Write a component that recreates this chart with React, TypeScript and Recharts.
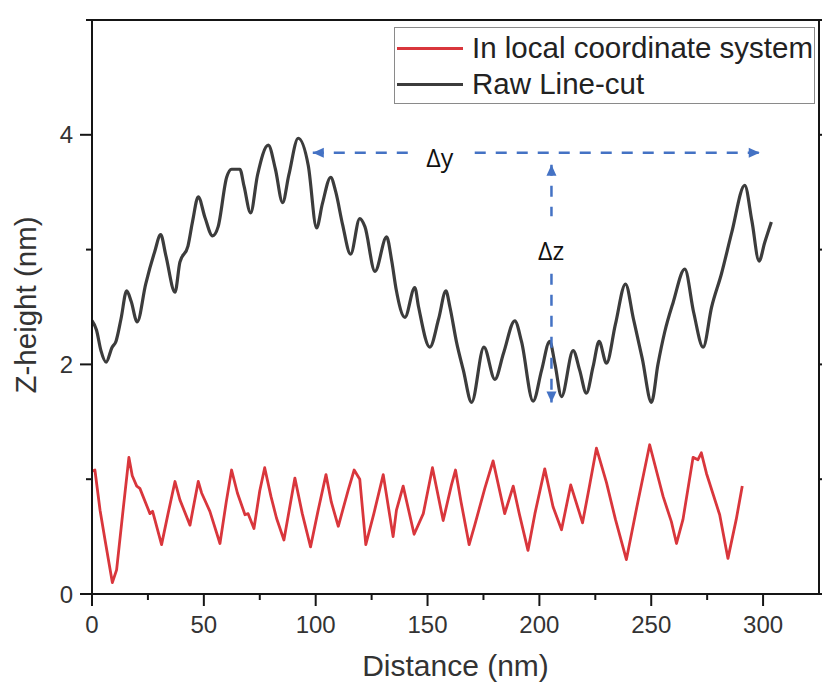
import React from 'react';
import { LineChart, Line, XAxis, YAxis, Legend, ReferenceLine, ReferenceDot } from 'recharts';

// ---- data ----
const rawDistance = [0, 2, 4, 6.3, 9, 10.7, 13, 15.5, 17.5, 20.2, 24, 28, 30.7, 33, 37.1, 39.3, 42.9, 45, 47.5, 50.5, 53.9, 56.4, 60.2, 62.4, 66.1, 68, 70.9, 74, 78.8, 82, 85.2, 88, 92.2, 96.7, 100.4, 103, 106.7, 109, 112, 115.6, 119.7, 122, 126.5, 131.7, 134, 136, 139.9, 144.3, 146, 151, 155, 158.2, 160, 163, 166, 169.7, 175.2, 180.1, 184, 189, 192, 197.2, 201, 204.6, 207, 209.9, 215.1, 218, 221, 224, 226.7, 230, 234, 238.5, 242, 246, 250.1, 253, 256, 259.8, 265, 269, 273.2, 277, 281.4, 286, 291.8, 295, 298.2, 300.7, 303.7];
const rawHeight = [2.38, 2.3, 2.12, 2.02, 2.15, 2.2, 2.4, 2.64, 2.55, 2.37, 2.7, 2.98, 3.13, 2.95, 2.63, 2.89, 3.03, 3.25, 3.46, 3.28, 3.12, 3.2, 3.63, 3.7, 3.7, 3.55, 3.32, 3.65, 3.91, 3.7, 3.41, 3.65, 3.97, 3.73, 3.19, 3.4, 3.63, 3.5, 3.22, 2.96, 3.27, 3.2, 2.81, 3.11, 2.9, 2.65, 2.41, 2.67, 2.5, 2.15, 2.4, 2.64, 2.5, 2.19, 1.95, 1.67, 2.15, 1.87, 2.1, 2.38, 2.2, 1.68, 1.95, 2.2, 2.0, 1.72, 2.12, 1.95, 1.75, 1.98, 2.2, 2.01, 2.35, 2.7, 2.4, 2.05, 1.67, 2.0, 2.28, 2.54, 2.83, 2.45, 2.15, 2.5, 2.79, 3.15, 3.56, 3.25, 2.9, 3.06, 3.24];

const localDistance = [0, 1.3, 3.6, 6, 9.1, 11, 14, 16.5, 18, 20, 21.4, 25.9, 27.1, 31.1, 34, 37.1, 39.3, 43.8, 47.5, 49, 52.7, 57.2, 60, 62.4, 65, 68.4, 69.8, 72.4, 75, 77.2, 80, 82.5, 85.8, 90.7, 94, 97.7, 101, 104.6, 107, 110.1, 114.6, 117.2, 119.7, 122.4, 126, 130.2, 134.6, 136.1, 139.1, 144, 148.1, 152.2, 157, 160.7, 162.5, 165, 168.6, 171.1, 175.6, 179.3, 184.5, 188.3, 191, 194.9, 198, 202.4, 206.1, 209.9, 214, 219.3, 222, 225.5, 230, 234, 238.9, 244, 249.3, 255.3, 259, 261.3, 264.2, 268.7, 270.9, 272.4, 274.7, 280.6, 284.3, 288, 290.7];
const localHeight = [1.07, 1.08, 0.73, 0.45, 0.1, 0.21, 0.75, 1.19, 1.03, 0.94, 0.92, 0.7, 0.72, 0.43, 0.7, 0.98, 0.82, 0.6, 0.98, 0.88, 0.72, 0.44, 0.8, 1.08, 0.88, 0.69, 0.7, 0.57, 0.9, 1.1, 0.85, 0.66, 0.47, 1.01, 0.7, 0.41, 0.72, 1.04, 0.8, 0.59, 0.91, 1.08, 1.0, 0.43, 0.7, 1.04, 0.5, 0.73, 0.94, 0.52, 0.7, 1.1, 0.64, 0.95, 1.08, 0.8, 0.43, 0.6, 0.92, 1.16, 0.7, 0.94, 0.7, 0.38, 0.7, 1.09, 0.76, 0.56, 0.95, 0.62, 0.9, 1.27, 0.97, 0.65, 0.3, 0.8, 1.3, 0.85, 0.63, 0.44, 0.65, 1.19, 1.17, 1.23, 1.05, 0.69, 0.31, 0.65, 0.94];

const xTicks = [0, 25, 50, 75, 100, 125, 150, 175, 200, 225, 250, 275, 300];
const yTicks = [0, 1, 2, 3, 4, 5];
const xDomain = [0, 325];
const yDomain = [0, 5];

const seriesNames = ['In local coordinate system', 'Raw Line-cut'];

// annotation (Δy horizontal arrow, Δz vertical arrow)
const dyArrowLeft = [{ x: 98.7, y: 3.843 }, { x: 143.9, y: 3.843 }];
const dyArrowRight = [{ x: 171.1, y: 3.843 }, { x: 298.5, y: 3.843 }];
const dzArrowTop = [{ x: 205.4, y: 3.74 }, { x: 205.4, y: 3.29 }];
const dzArrowBottom = [{ x: 205.4, y: 2.79 }, { x: 205.4, y: 1.668 }];
const annotationLabels = [
  { text: 'Δy', x: 155.5, y: 3.81 },
  { text: 'Δz', x: 205.2, y: 3.0 },
];
const arrowTips = [
  { x: 98.7, y: 3.843, dir: 'left' },
  { x: 298.5, y: 3.843, dir: 'right' },
  { x: 205.4, y: 3.74, dir: 'up' },
  { x: 205.4, y: 1.668, dir: 'down' },
];

const rawData = rawDistance.map((d, i) => ({ d, z: rawHeight[i] }));
const localData = localDistance.map((d, i) => ({ d, z: localHeight[i] }));

const FONT = '"Liberation Sans", Arial, Helvetica, sans-serif';
const AXIS = '#151515';
const BLUE = '#4472C4';

const BottomTick = (props: any) => {
  const { x, y, payload } = props;
  const major = payload.value % 50 === 0;
  return (
    <g>
      <line x1={x} y1={y} x2={x} y2={y + (major ? 12 : 6)} stroke={AXIS} strokeWidth={2} />
      {major && (
        <text x={x} y={y + 30} textAnchor="middle" dominantBaseline="central" fontSize={24} fill="#333" fontFamily={FONT}>
          {payload.value}
        </text>
      )}
    </g>
  );
};

const TopTick = (props: any) => {
  const { x, y, payload } = props;
  const major = payload.value % 50 === 0;
  return <line x1={x} y1={y} x2={x} y2={y - (major ? 11 : 5)} stroke={AXIS} strokeWidth={2} />;
};

const LeftTick = (props: any) => {
  const { x, y, payload } = props;
  const major = payload.value % 2 === 0;
  return (
    <g>
      <line x1={x} y1={y} x2={x - (major ? 12 : 6)} y2={y} stroke={AXIS} strokeWidth={2} />
      {major && payload.value !== 5 && (
        <text x={x - 19} y={y} textAnchor="end" dominantBaseline="central" fontSize={24} fill="#333" fontFamily={FONT}>
          {payload.value}
        </text>
      )}
    </g>
  );
};

const RightTick = (props: any) => {
  const { x, y, payload } = props;
  const major = payload.value % 2 === 0;
  return <line x1={x} y1={y} x2={x + (major ? 12 : 6)} y2={y} stroke={AXIS} strokeWidth={2} />;
};

const arrowShape = (dir: string) => (props: any) => {
  const { cx, cy } = props;
  const L = 11;
  const W = 5;
  let pts = '';
  if (dir === 'left') pts = `${cx},${cy} ${cx + L},${cy - W} ${cx + L},${cy + W}`;
  if (dir === 'right') pts = `${cx},${cy} ${cx - L},${cy - W} ${cx - L},${cy + W}`;
  if (dir === 'up') pts = `${cx},${cy} ${cx - W},${cy + L} ${cx + W},${cy + L}`;
  if (dir === 'down') pts = `${cx},${cy} ${cx - W},${cy - L} ${cx + W},${cy - L}`;
  return <polygon points={pts} fill={BLUE} />;
};

const textShape = (text: string) => (props: any) => {
  const { cx, cy } = props;
  return (
    <text x={cx} y={cy} textAnchor="middle" dominantBaseline="central" fontSize={25} fill="#111" fontFamily='"Open Sans", "Noto Sans", sans-serif'>
      {text}
    </text>
  );
};

const LegendContent = (props: any) => {
  const payload = [...(props.payload || [])].sort(
    (a: any, b: any) => seriesNames.indexOf(a.value) - seriesNames.indexOf(b.value)
  );
  return (
    <div
      style={{
        width: 421,
        height: 77,
        border: '1.5px solid #8a8a8a',
        boxSizing: 'border-box',
        background: '#fff',
        paddingTop: 2,
        fontFamily: FONT,
      }}
    >
      {payload.map((p: any) => (
        <div key={p.value} style={{ display: 'flex', alignItems: 'center', height: 36 }}>
          <div style={{ marginLeft: 2, width: 66, height: 3, background: p.color }} />
          <span style={{ marginLeft: 9, fontSize: 29.5, color: '#222', lineHeight: '36px', whiteSpace: 'nowrap' }}>{p.value}</span>
        </div>
      ))}
    </div>
  );
};

export default function App() {
  return (
    <div style={{ position: 'absolute', left: 0, top: 0, width: 822, height: 683, background: '#fff' }}>
      <LineChart width={822} height={683} margin={{ top: 0, right: 0, bottom: 0, left: 20 }}>
        <XAxis
          dataKey="d"
          type="number"
          domain={xDomain}
          ticks={xTicks}
          interval={0}
          allowDataOverflow
          height={89}
          tickSize={0}
          tickMargin={0}
          tickLine={false}
          axisLine={{ stroke: AXIS, strokeWidth: 2 }}
          tick={<BottomTick />}
          label={(p: any) => {
            const vb = p.viewBox;
            return (
              <text x={vb.x + vb.width / 2} y={vb.y + 71} textAnchor="middle" dominantBaseline="central" fontSize={30} fill="#333" fontFamily={FONT}>
                Distance (nm)
              </text>
            );
          }}
        />
        <XAxis
          xAxisId="top"
          orientation="top"
          type="number"
          domain={xDomain}
          ticks={xTicks}
          interval={0}
          allowDataOverflow
          height={20}
          tickSize={0}
          tickMargin={0}
          tickLine={false}
          axisLine={{ stroke: AXIS, strokeWidth: 2 }}
          tick={<TopTick />}
        />
        <YAxis
          type="number"
          domain={yDomain}
          ticks={yTicks}
          interval={0}
          allowDataOverflow
          width={72}
          tickSize={0}
          tickMargin={0}
          tickLine={false}
          axisLine={{ stroke: AXIS, strokeWidth: 2 }}
          tick={<LeftTick />}
          label={(p: any) => {
            const vb = p.viewBox;
            const cx = vb.x + 5;
            const cy = vb.y + vb.height / 2 - 2;
            return (
              <text x={cx} y={cy} transform={`rotate(-90 ${cx} ${cy})`} textAnchor="middle" dominantBaseline="central" fontSize={29.5} fill="#333" fontFamily={FONT}>
                Z-height (nm)
              </text>
            );
          }}
        />
        <YAxis
          yAxisId="right"
          orientation="right"
          type="number"
          domain={yDomain}
          ticks={yTicks}
          interval={0}
          allowDataOverflow
          width={3}
          tickSize={0}
          tickMargin={0}
          tickLine={false}
          axisLine={{ stroke: AXIS, strokeWidth: 2 }}
          tick={<RightTick />}
        />
        <Legend
          layout="horizontal"
          verticalAlign="middle"
          align="center"
          content={<LegendContent />}
          wrapperStyle={{ left: 394, top: 27, width: 421, height: 77 }}
        />
        <Line
          data={localData}
          dataKey="z"
          name={seriesNames[0]}
          stroke="#d9363c"
          strokeWidth={2.8}
          dot={false}
          activeDot={false}
          isAnimationActive={false}
          strokeLinejoin="round"
        />
        <Line
          data={rawData}
          type="monotone"
          dataKey="z"
          name={seriesNames[1]}
          stroke="#3c3c3c"
          strokeWidth={3.2}
          dot={false}
          activeDot={false}
          isAnimationActive={false}
          strokeLinejoin="round"
        />
        {[dyArrowLeft, dyArrowRight, dzArrowTop, dzArrowBottom].map((seg, i) => (
          <ReferenceLine key={'seg' + i} segment={seg} stroke={BLUE} strokeWidth={2.5} strokeDasharray="11 10" />
        ))}
        {arrowTips.map((a, i) => (
          <ReferenceDot key={'tip' + i} x={a.x} y={a.y} r={0} shape={arrowShape(a.dir)} />
        ))}
        {annotationLabels.map((l, i) => (
          <ReferenceDot key={'lbl' + i} x={l.x} y={l.y} r={0} shape={textShape(l.text)} />
        ))}
      </LineChart>
    </div>
  );
}
